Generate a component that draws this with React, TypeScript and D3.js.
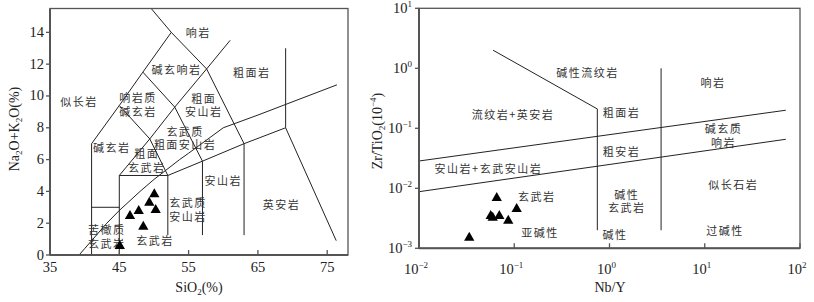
import * as d3 from 'd3';

// TAS diagram (left)
const tasXTicks = [35, 45, 55, 65, 75];
const tasYTicks = [0, 2, 4, 6, 8, 10, 12, 14];

const tasLines: [number, number][][] = [
  [[41, 0], [41, 7], [45, 9.4], [48.4, 11.5], [52.5, 14], [49.6, 15.5]],
  [[41, 3], [45, 3]],
  [[45, 0], [45, 5], [49.4, 7.3], [53, 9.3], [57.6, 11.7], [61, 13.5]],
  [[45, 9.4], [49.4, 7.3], [52, 5]],
  [[48.4, 11.5], [53, 9.3], [57, 5.9]],
  [[52.5, 14], [57.6, 11.7], [63, 7]],
  [[45, 5], [52, 5], [57, 5.9], [63, 7], [69, 8], [76.3, 0.9]],
  [[52, 5], [52, 1.25]],
  [[57, 5.9], [57, 1.25]],
  [[63, 7], [63, 1.25]],
  [[69, 8], [69, 13]],
];

// Irvine & Baragar alkaline / subalkaline divide
const irvine: [number, number][] = [
  [39.2, 0], [40, 0.4], [43.2, 2], [45, 2.8], [48, 4], [50, 4.75],
  [53.7, 6], [55, 6.4], [60, 8], [65, 8.8], [76.4, 10.7],
];

const tasLabels = [
  { lines: ['响岩'], s: 56.4, a: 13.94 },
  { lines: ['碱玄响岩'], s: 53.25, a: 11.64 },
  { lines: ['粗面岩'], s: 64.1, a: 11.47 },
  { lines: ['似长岩'], s: 39.2, a: 9.64 },
  { lines: ['响岩质', '碱玄岩'], s: 47.7, a: 9.43 },
  { lines: ['粗面', '安山岩'], s: 57.2, a: 9.4 },
  { lines: ['玄武质', '粗面安山岩'], s: 54.5, a: 7.33 },
  { lines: ['碱玄岩'], s: 43.9, a: 6.71 },
  { lines: ['粗面', '玄武岩'], s: 48.95, a: 5.92 },
  { lines: ['安山岩'], s: 60, a: 4.65 },
  { lines: ['玄武质', '安山岩'], s: 54.9, a: 2.83 },
  { lines: ['英安岩'], s: 68.4, a: 3.14 },
  { lines: ['苦橄质', '玄武岩'], s: 43.2, a: 1.13 },
  { lines: ['玄武岩'], s: 50.15, a: 0.91 },
];

const sio2 = [50.05, 49.33, 50.25, 47.8, 46.54, 48.46, 45.07];
const alkali = [3.82, 3.29, 2.83, 2.77, 2.45, 1.78, 0.57];

// Zr/TiO2 - Nb/Y diagram (right)
const nbyTicks = [1e-2, 1e-1, 1, 10, 100];
const zrTicks = [1e-3, 1e-2, 1e-1, 1, 10];
const tickExp = ['-2', '-1', '0', '1', '2'];
const tickExpY = ['-3', '-2', '-1', '0', '1'];

const wfLines: [number, number][][] = [
  [[0.06, 2.0], [0.745, 0.21], [0.745, 0.002]],
  [[3.48, 1.0], [3.48, 0.002]],
  [[0.01, 0.0285], [70.9, 0.2]],
  [[0.01, 0.00878], [70.9, 0.0656]],
];

const wfLabels = [
  { lines: ['碱性流纹岩'], x: 0.587, y: 0.835 },
  { lines: ['响岩'], x: 12.2, y: 0.569 },
  { lines: ['流纹岩+英安岩'], x: 0.097, y: 0.167 },
  { lines: ['粗面岩'], x: 1.34, y: 0.178 },
  { lines: ['碱玄质', '响岩'], x: 15.7, y: 0.075 },
  { lines: ['粗安岩'], x: 1.34, y: 0.0407 },
  { lines: ['安山岩+玄武安山岩'], x: 0.0535, y: 0.0207 },
  { lines: ['玄武岩'], x: 0.172, y: 0.00708 },
  { lines: ['碱性', '玄武岩'], x: 1.52, y: 0.00598 },
  { lines: ['似长石岩'], x: 19.95, y: 0.01135 },
  { lines: ['亚碱性'], x: 0.186, y: 0.00178 },
  { lines: ['碱性'], x: 1.14, y: 0.00167 },
  { lines: ['过碱性'], x: 16.3, y: 0.00197 },
];

const nbY = [0.0655, 0.106, 0.0566, 0.0594, 0.0697, 0.0865, 0.0337];
const zrTi = [0.00689, 0.00452, 0.00345, 0.00324, 0.00345, 0.00288, 0.0015];

const serif = '"Liberation Serif", "DejaVu Serif", serif';
const cjk = '"Noto Sans CJK SC", sans-serif';
const axisColor = '#555';
const lineColor = '#222';

const tri = d3.symbol().type(d3.symbolTriangle).size(46)() as string;

// 多行标注，每行单独一个 text
function Label({ x, y, lines }: { x: number; y: number; lines: string[] }) {
  const lh = 13.5;
  const y0 = y - ((lines.length - 1) * lh) / 2 + 4;
  return (
    <g>
      {lines.map((l, i) => (
        <text
          key={i}
          x={x}
          y={y0 + i * lh}
          fontFamily={cjk}
          fontSize={11}
          fill="#333"
          textAnchor="middle"
          letterSpacing={1.5}
        >
          {l}
        </text>
      ))}
    </g>
  );
}

export default function App() {
  // left chart scales
  const x1 = d3.scaleLinear().domain([35, 78]).range([50, 348]);
  const y1 = d3.scaleLinear().domain([0, 15.5]).range([255, 8.5]);
  const line1 = d3.line<[number, number]>().x((d) => x1(d[0])).y((d) => y1(d[1]));

  // right chart scales
  const x2 = d3.scaleLog().domain([1e-2, 1e2]).range([419, 800]);
  const y2 = d3.scaleLog().domain([1e-3, 1e1]).range([248.3, 8.3]);
  const line2 = d3.line<[number, number]>().x((d) => x2(d[0])).y((d) => y2(d[1]));

  return (
    <svg width={814} height={302} style={{ display: 'block', position: 'absolute', left: 0, top: 0, background: '#fff' }}>
      {/* ---------- left: TAS ---------- */}
      <g>
        {tasLines.map((l, i) => (
          <path key={i} d={line1(l) ?? ''} fill="none" stroke={lineColor} strokeWidth={1} />
        ))}
        <path d={line1(irvine) ?? ''} fill="none" stroke={lineColor} strokeWidth={1} />

        {tasLabels.map((l, i) => (
          <Label key={i} x={x1(l.s)} y={y1(l.a)} lines={l.lines} />
        ))}

        {sio2.map((s, i) => (
          <path key={i} d={tri} transform={`translate(${x1(s)},${y1(alkali[i])})`} fill="#000" />
        ))}

        <rect x={x1(35)} y={y1(15.5)} width={x1(78) - x1(35)} height={y1(0) - y1(15.5)} fill="none" stroke={axisColor} strokeWidth={1.3} />
        <line x1={x1(35)} x2={x1(78)} y1={y1(0)} y2={y1(0)} stroke={axisColor} strokeWidth={2} />
        <line x1={x1(35)} x2={x1(35)} y1={y1(0)} y2={y1(15.5)} stroke={axisColor} strokeWidth={2} />

        {tasXTicks.map((t) => (
          <g key={t}>
            <line x1={x1(t)} x2={x1(t)} y1={y1(0)} y2={y1(0) - 5} stroke={axisColor} strokeWidth={1.3} />
            <text x={x1(t)} y={272} textAnchor="middle" fontFamily={serif} fontSize={14.5} fill="#222">
              {t}
            </text>
          </g>
        ))}
        {tasYTicks.map((t) => (
          <g key={t}>
            <line x1={x1(35) - 4} x2={x1(35)} y1={y1(t)} y2={y1(t)} stroke={axisColor} strokeWidth={1.3} />
            <text x={44} y={y1(t) + 4.5} textAnchor="end" fontFamily={serif} fontSize={14.5} fill="#222">
              {t}
            </text>
          </g>
        ))}
        <text x={199} y={292} textAnchor="middle" fontFamily={serif} fontSize={14} fill="#222">
          SiO<tspan fontSize={9} dy={3}>2</tspan>
          <tspan dy={-3}>(%)</tspan>
        </text>
        <text transform="translate(19,129) rotate(-90)" textAnchor="middle" fontFamily={serif} fontSize={14} fill="#222">
          Na<tspan fontSize={9} dy={3}>2</tspan>
          <tspan dy={-3}>O+K</tspan>
          <tspan fontSize={9} dy={3}>2</tspan>
          <tspan dy={-3}>O(%)</tspan>
        </text>
      </g>

      {/* ---------- right: Zr/TiO2 vs Nb/Y ---------- */}
      <g>
        {wfLines.map((l, i) => (
          <path key={i} d={line2(l) ?? ''} fill="none" stroke={lineColor} strokeWidth={1} />
        ))}
        {wfLabels.map((l, i) => (
          <Label key={i} x={x2(l.x)} y={y2(l.y)} lines={l.lines} />
        ))}
        {nbY.map((v, i) => (
          <path key={i} d={tri} transform={`translate(${x2(v)},${y2(zrTi[i])})`} fill="#000" />
        ))}

        <rect x={419} y={8.3} width={381} height={240} fill="none" stroke={axisColor} strokeWidth={1.3} />
        <line x1={419} x2={800} y1={y2(1e-3)} y2={y2(1e-3)} stroke={axisColor} strokeWidth={2} />
        <line x1={419} x2={419} y1={y2(1e-3)} y2={y2(10)} stroke={axisColor} strokeWidth={2} />

        {nbyTicks.map((t, i) => (
          <g key={t}>
            <line x1={x2(t)} x2={x2(t)} y1={y2(1e-3)} y2={y2(1e-3) - 5} stroke={axisColor} strokeWidth={1.3} />
            <text x={x2(t) - 3} y={274} textAnchor="middle" fontFamily={serif} fontSize={14.5} fill="#222">
              10<tspan fontSize={9} dy={-6}>{tickExp[i].replace('-', '−')}</tspan>
            </text>
          </g>
        ))}
        {zrTicks.map((t, i) => (
          <g key={t}>
            <line x1={415} x2={419} y1={y2(t)} y2={y2(t)} stroke={axisColor} strokeWidth={1.3} />
            <text x={412} y={y2(t) + 5} textAnchor="end" fontFamily={serif} fontSize={14.5} fill="#222">
              10<tspan fontSize={9} dy={-6}>{tickExpY[i].replace('-', '−')}</tspan>
            </text>
          </g>
        ))}
        <text x={610} y={292} textAnchor="middle" fontFamily={serif} fontSize={14} fill="#222">
          Nb/Y
        </text>
        <text transform="translate(382,131) rotate(-90)" textAnchor="middle" fontFamily={serif} fontSize={14} fill="#222">
          Zr/TiO<tspan fontSize={9} dy={3}>2</tspan>
          <tspan dy={-3}>(10</tspan>
          <tspan fontSize={9} dy={-6}>−4</tspan>
          <tspan dy={6}>)</tspan>
        </text>
      </g>
    </svg>
  );
}
